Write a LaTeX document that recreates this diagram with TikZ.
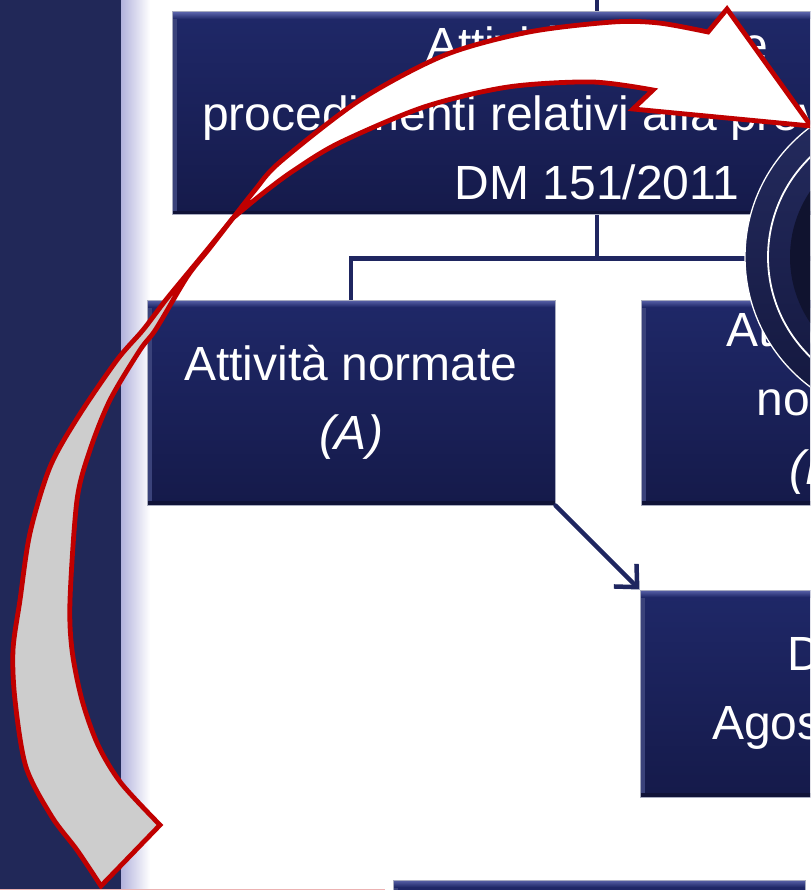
\documentclass[tikz,border=0pt]{standalone}
\usepackage{fontspec}
\setmainfont{Liberation Sans}
\usetikzlibrary{arrows.meta,calc}
\definecolor{band}{HTML}{212858}
\definecolor{boxtop}{HTML}{1F2868}
\definecolor{boxbot}{HTML}{151A4A}
\definecolor{bevel}{HTML}{5A63AA}
\definecolor{edge}{HTML}{A8ACC0}
\definecolor{navy}{HTML}{1F2660}
\definecolor{redline}{HTML}{C00000}
\definecolor{arrowgrey}{HTML}{CDCDCD}
\definecolor{ringa}{HTML}{252C60}
\definecolor{ringb}{HTML}{13173D}
\definecolor{core}{HTML}{10132F}
\begin{document}
\begin{tikzpicture}[x=1pt,y=-1pt,
  navybox/.style={draw=edge, line width=1pt, top color=boxtop, bottom color=boxbot,
    text=white, inner sep=0pt, align=center, font=\fontsize{48}{69}\selectfont,
    path picture={
      \fill[boxtop!88!white]
        (path picture bounding box.north west) rectangle ([xshift=5pt]path picture bounding box.south west);
      \shade[top color=bevel, bottom color=boxtop]
        (path picture bounding box.north west) rectangle ([yshift=-7pt]path picture bounding box.north east);
      \fill[boxbot!75!black]
        ([yshift=4pt]path picture bounding box.south west) rectangle (path picture bounding box.south east);
    }},
  conn/.style={draw=navy, line width=4.5pt},
  redarrow/.style={draw=redline, line width=4.8pt, line join=miter, miter limit=10}]
\useasboundingbox (0,0) rectangle (810,890);
\clip (0,0) rectangle (810,890);
\fill[white] (0,0) rectangle (810,890);
% left band and its shadow
\fill[band] (0,0) rectangle (121,890);
\shade[left color=black!45!blue!30!white, right color=white] (121,0) rectangle (150,890);

% boxes
\node[navybox, minimum width=850pt, minimum height=203pt] (T) at (597,113.5)
  {Attività soggette\\procedimenti relativi alla prevenzione\\DM 151/2011};
\node[navybox, minimum width=408pt, minimum height=205pt] (A) at (351,402.5)
  {Attività normate\\\textit{(A)}};
\node[navybox, minimum width=408pt, minimum height=205pt] (B) at (845,402.5)
  {Attività non\\normate\\\textit{(B,C)}};
\node[navybox, minimum width=410pt, minimum height=207pt] (D) at (845,693.5)
  {DM 5\\Agosto 2011};
\node[navybox, minimum width=412pt, minimum height=205pt] (E) at (599,982.5) {};

% connectors
\coordinate (topend) at (597,0);
\coordinate (j) at ($(T.south)+(0,43)$);
\draw[conn] (topend) -- (T.north);
\draw[conn] (T.south) -- (j);
\draw[conn] (A.north) |- (j) -| (B.north);
\draw[conn, line width=4.5pt, line cap=round,
  -{Straight Barb[length=17pt,width=32pt,line width=4.5pt]}] (A.south east) -- (D.north west);

% circle
\node[circle, minimum size=324pt, inner sep=0pt, draw=white, line width=1.3pt,
  top color=ringa, bottom color=ringb] (ring) at (907,257) {};
\draw[white, line width=1.8pt] (ring.center) circle[radius=139];
\fill[core] (ring.center) circle[radius=117];

% red curved block arrow (twisted ribbon)
\filldraw[redarrow, fill=arrowgrey]
  plot[smooth, tension=0.5] coordinates {(101,886) (77,850) (52,817) (26,767) (15,700) (13,650) (20,600) (30,533) (50,467) (78,417) (117,360) (143,330) (165,301) (183,279) (207,250) (233,218)}
  -- plot[smooth, tension=0.5] coordinates {(233,218) (209,249) (187,277) (156,329) (140,350) (110,400) (90,450) (77,500) (70,600) (72,650) (82,700) (98,745) (121,783) (160,825)}
  -- cycle;
\filldraw[redarrow, fill=white]
  plot[smooth, tension=0.5] coordinates {(233,218) (255,190) (280,162) (360,100) (445,55) (529,32) (613,22) (659,23) (708,32)}
  -- (727,9) -- (811,126) -- (633,109) --
  plot[smooth, tension=0.5] coordinates {(653,90) (592,82) (508,87) (424,107) (339,143) (293,171) (262,194) (233,218)}
  -- cycle;

% faint line at the lower edge
\draw[redline!30, line width=1pt] (0,889.5) -- (385,889.5);
\end{tikzpicture}
\end{document}
